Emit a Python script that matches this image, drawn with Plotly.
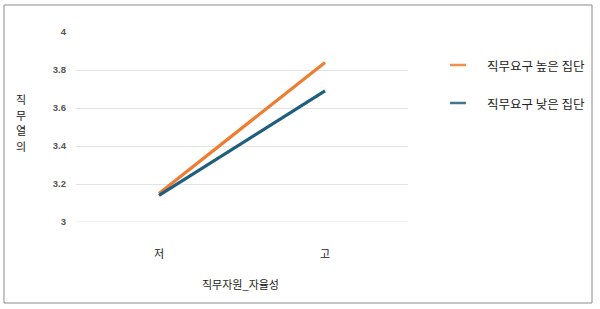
import plotly.graph_objects as go

categories = ["저", "고"]
series_names = ["직무요구 높은 집단", "직무요구 낮은 집단"]
high_vals = [3.15, 3.84]
low_vals = [3.14, 3.69]
y_ticks = [3, 3.2, 3.4, 3.6, 3.8, 4]
y_ticklabels = ["3", "3.2", "3.4", "3.6", "3.8", "4"]
y_title_chars = ["직", "무", "열", "의"]
colors = ["#ED7D31", "#1F5F7D"]

KR = "Noto Sans CJK KR"

# pixel -> paper helpers (plot area: x 76..408, y 32..222)
def px(x):
    return (x - 76) / 332

def py(y):
    return (222 - y) / 190

fig = go.Figure()
for i, (name, vals) in enumerate(zip(series_names, [high_vals, low_vals])):
    fig.add_trace(go.Scatter(
        x=categories, y=vals, mode="lines", name=name,
        line=dict(color=colors[i], width=3.2),
        showlegend=False,
    ))

annotations = []
for k, ch in enumerate(y_title_chars):
    annotations.append(dict(
        text=ch, xref="paper", yref="paper",
        x=px(21), y=py(99 + 15.7 * k), xanchor="center", yanchor="middle",
        showarrow=False, font=dict(family=KR, size=11, color="#222")))
annotations.append(dict(
    text="직무자원_자율성", xref="paper", yref="paper",
    x=px(240), y=py(284), xanchor="center", yanchor="middle",
    showarrow=False, font=dict(family=KR, size=11, color="#222")))

shapes = [
    dict(type="rect", xref="paper", yref="paper",
         x0=px(4), x1=px(592), y0=py(303), y1=py(5),
         line=dict(color="#8a8a8a", width=1)),
    dict(type="line", xref="paper", yref="y",
         x0=0, x1=1, y0=3, y1=3,
         line=dict(color="#e3e3e3", width=1), layer="below"),
]

# custom legend
legend_y = [65, 103]
for i, name in enumerate(series_names):
    shapes.append(dict(type="line", xref="paper", yref="paper",
                       x0=px(450), x1=px(466), y0=py(legend_y[i]), y1=py(legend_y[i]),
                       line=dict(color=colors[i], width=2.5), opacity=0.85))
    annotations.append(dict(
        text=name, xref="paper", yref="paper",
        x=px(485), y=py(legend_y[i]), xanchor="left", yanchor="middle",
        showarrow=False, font=dict(family=KR, size=12.5, color="#222")))

fig.update_layout(
    width=600, height=309,
    margin=dict(l=76, r=192, t=32, b=87),
    paper_bgcolor="white", plot_bgcolor="white",
    showlegend=False,
    xaxis=dict(
        type="category", range=[-0.5, 1.5],
        showgrid=False, zeroline=False, showline=False, ticks="",
        tickfont=dict(family=KR, size=11, color="#222"),
        ticklabelstandoff=24,
    ),
    yaxis=dict(
        range=[3, 4], tickvals=y_ticks, ticktext=y_ticklabels,
        showgrid=True, gridcolor="#e3e3e3", gridwidth=1,
        zeroline=False, showline=False, ticks="",
        tickfont=dict(family="Liberation Sans", size=9.5, color="#555", weight="bold"),
        ticklabelstandoff=9,
    ),
    annotations=annotations,
    shapes=shapes,
)

fig.write_html("out.html")
